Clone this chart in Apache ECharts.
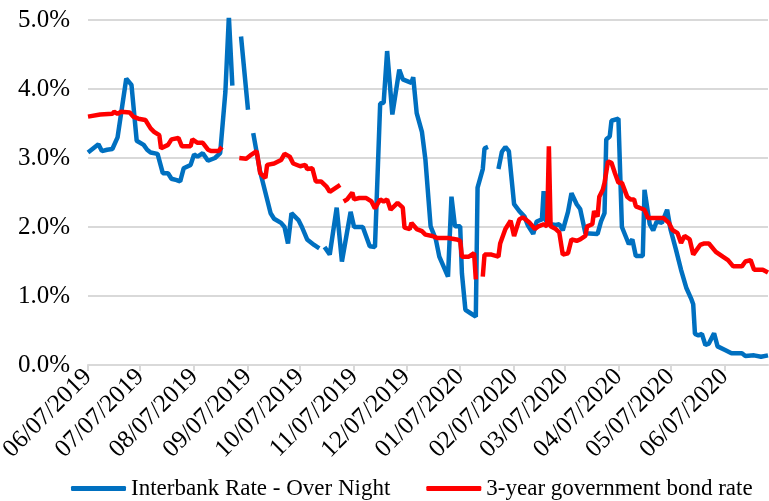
<!DOCTYPE html>
<html>
<head>
<meta charset="utf-8">
<script src="https://cdn.jsdelivr.net/npm/echarts@6/dist/echarts.min.js"></script>
<style>
  html, body { margin: 0; padding: 0; background: #fff; }
  #chart { width: 769px; height: 501px; }
</style>
</head>
<body>
<div id="chart"></div>
<script>
// daily category axis, first and last day
const startDay = '2019-06-07'
const endDay = '2020-07-02'

// Interbank Rate - Over Night (%), '-' breaks the line
const interbank = [
  ['2019-06-07', 3.08], ['2019-06-13', 3.20], ['2019-06-15', 3.10], ['2019-06-18', 3.12],
  ['2019-06-21', 3.13], ['2019-06-24', 3.30], ['2019-06-29', 4.15], ['2019-07-02', 4.06],
  ['2019-07-05', 3.25], ['2019-07-09', 3.19], ['2019-07-11', 3.12], ['2019-07-13', 3.08],
  ['2019-07-17', 3.06], ['2019-07-20', 2.78], ['2019-07-23', 2.78], ['2019-07-25', 2.70],
  ['2019-07-28', 2.68], ['2019-07-30', 2.66], ['2019-08-01', 2.85], ['2019-08-05', 2.90],
  ['2019-08-07', 3.05], ['2019-08-09', 3.02], ['2019-08-12', 3.07], ['2019-08-15', 2.96],
  ['2019-08-19', 3.00], ['2019-08-22', 3.07], ['2019-08-25', 3.96], ['2019-08-27', 5.05],
  ['2019-08-29', 4.05], ['2019-09-01', '-'],
  ['2019-09-03', 4.76], ['2019-09-07', 3.70], ['2019-09-09', '-'],
  ['2019-09-10', 3.36], ['2019-09-14', 2.80], ['2019-09-17', 2.50], ['2019-09-20', 2.20],
  ['2019-09-22', 2.12], ['2019-09-26', 2.06], ['2019-09-28', 2.00], ['2019-09-30', 1.76],
  ['2019-10-02', 2.20], ['2019-10-06', 2.10], ['2019-10-08', 2.00], ['2019-10-11', 1.82],
  ['2019-10-15', 1.74], ['2019-10-18', 1.69], ['2019-10-20', '-'],
  ['2019-10-21', 1.71], ['2019-10-24', 1.60], ['2019-10-28', 2.28], ['2019-10-31', 1.50],
  ['2019-11-05', 2.22], ['2019-11-07', 2.00], ['2019-11-12', 2.00], ['2019-11-16', 1.72],
  ['2019-11-19', 1.71], ['2019-11-22', 3.79], ['2019-11-24', 3.80], ['2019-11-26', 4.55],
  ['2019-11-29', 3.63], ['2019-12-03', 4.28], ['2019-12-05', 4.14], ['2019-12-10', 4.09],
  ['2019-12-11', 4.17], ['2019-12-13', 3.65], ['2019-12-16', 3.38], ['2019-12-18', 2.98],
  ['2019-12-21', 2.01], ['2019-12-24', 1.82], ['2019-12-26', 1.57], ['2019-12-31', 1.28],
  ['2020-01-01', 1.28], ['2020-01-02', 2.44], ['2020-01-04', 2.01], ['2020-01-07', 2.01],
  ['2020-01-08', 1.33], ['2020-01-10', 0.80], ['2020-01-13', 0.75], ['2020-01-16', 0.70],
  ['2020-01-17', 2.57], ['2020-01-20', 2.84], ['2020-01-21', 3.14], ['2020-01-23', 3.16],
  ['2020-01-26', '-'],
  ['2020-01-29', 2.84], ['2020-01-31', 3.09], ['2020-02-02', 3.16], ['2020-02-04', 3.10],
  ['2020-02-07', 2.33], ['2020-02-10', 2.23], ['2020-02-13', 2.15], ['2020-02-15', 2.02],
  ['2020-02-18', 1.90], ['2020-02-20', 2.08], ['2020-02-23', 2.11], ['2020-02-24', 2.52],
  ['2020-02-25', 2.10], ['2020-02-28', 2.04], ['2020-03-02', 2.03], ['2020-03-04', 2.04],
  ['2020-03-06', 1.95], ['2020-03-09', 2.22], ['2020-03-11', 2.49], ['2020-03-14', 2.33],
  ['2020-03-16', 2.26], ['2020-03-19', 1.91], ['2020-03-26', 1.90], ['2020-03-28', 2.08],
  ['2020-03-30', 2.20], ['2020-03-31', 3.27], ['2020-04-02', 3.31], ['2020-04-03', 3.54],
  ['2020-04-07', 3.57], ['2020-04-09', 2.00], ['2020-04-13', 1.75], ['2020-04-15', 1.82],
  ['2020-04-17', 1.58], ['2020-04-21', 1.58], ['2020-04-22', 2.54], ['2020-04-23', 2.55],
  ['2020-04-25', 2.04], ['2020-04-27', 1.95], ['2020-04-29', 2.08], ['2020-05-02', 2.06],
  ['2020-05-05', 2.25], ['2020-05-07', 1.96], ['2020-05-10', 1.68], ['2020-05-13', 1.38],
  ['2020-05-16', 1.12], ['2020-05-19', 0.95], ['2020-05-20', 0.88], ['2020-05-21', 0.45],
  ['2020-05-23', 0.43], ['2020-05-25', 0.45], ['2020-05-27', 0.29], ['2020-05-29', 0.31],
  ['2020-06-01', 0.46], ['2020-06-03', 0.27], ['2020-06-07', 0.22], ['2020-06-11', 0.17],
  ['2020-06-17', 0.17], ['2020-06-19', 0.13], ['2020-06-24', 0.14], ['2020-06-28', 0.12],
  ['2020-07-02', 0.14]
]

// 3-year government bond rate (%)
const bond3y = [
  ['2019-06-07', 3.60], ['2019-06-14', 3.63], ['2019-06-21', 3.64], ['2019-06-22', 3.67],
  ['2019-06-24', 3.64], ['2019-06-26', 3.67], ['2019-07-01', 3.66], ['2019-07-03', 3.60],
  ['2019-07-06', 3.57], ['2019-07-10', 3.55], ['2019-07-13', 3.43], ['2019-07-15', 3.38],
  ['2019-07-18', 3.33], ['2019-07-19', 3.14], ['2019-07-23', 3.19], ['2019-07-25', 3.27],
  ['2019-07-29', 3.29], ['2019-07-31', 3.17], ['2019-08-05', 3.17], ['2019-08-06', 3.27],
  ['2019-08-09', 3.22], ['2019-08-12', 3.22], ['2019-08-15', 3.12], ['2019-08-17', 3.10],
  ['2019-08-21', 3.10], ['2019-08-23', 3.16], ['2019-08-28', '-'],
  ['2019-09-02', 3.00], ['2019-09-06', 2.99], ['2019-09-09', 3.05], ['2019-09-12', 3.10],
  ['2019-09-14', 2.78], ['2019-09-17', 2.71], ['2019-09-18', 2.90], ['2019-09-22', 2.92],
  ['2019-09-26', 2.97], ['2019-09-28', 3.06], ['2019-10-01', 3.02], ['2019-10-03', 2.92],
  ['2019-10-07', 2.88], ['2019-10-10', 2.90], ['2019-10-11', 2.84], ['2019-10-14', 2.85],
  ['2019-10-16', 2.66], ['2019-10-19', 2.66], ['2019-10-22', 2.59], ['2019-10-24', 2.51],
  ['2019-10-27', 2.56], ['2019-10-30', 2.61], ['2019-10-31', '-'],
  ['2019-11-01', 2.37], ['2019-11-03', 2.40], ['2019-11-06', 2.50], ['2019-11-07', 2.40],
  ['2019-11-10', 2.42], ['2019-11-14', 2.42], ['2019-11-17', 2.37], ['2019-11-19', 2.27],
  ['2019-11-22', 2.40], ['2019-11-24', 2.37], ['2019-11-26', 2.40], ['2019-11-28', 2.25],
  ['2019-12-02', 2.35], ['2019-12-05', 2.28], ['2019-12-06', 1.99], ['2019-12-09', 1.97],
  ['2019-12-10', 2.06], ['2019-12-13', 1.97], ['2019-12-16', 1.94], ['2019-12-18', 1.89],
  ['2019-12-22', 1.87], ['2019-12-25', 1.84], ['2019-12-31', 1.84], ['2020-01-05', 1.82],
  ['2020-01-07', 1.80], ['2020-01-08', 1.57], ['2020-01-12', 1.57], ['2020-01-15', 1.62],
  ['2020-01-16', 1.24], ['2020-01-18', '-'],
  ['2020-01-20', 1.28], ['2020-01-21', 1.60], ['2020-01-25', 1.60], ['2020-01-29', 1.57],
  ['2020-01-30', 1.76], ['2020-02-02', 1.97], ['2020-02-05', 2.09], ['2020-02-07', 1.87],
  ['2020-02-10', 2.11], ['2020-02-12', 2.14], ['2020-02-16', 2.06], ['2020-02-19', 1.97],
  ['2020-02-21', 2.01], ['2020-02-24', 2.04], ['2020-02-26', 2.01], ['2020-02-27', 3.17],
  ['2020-02-28', 2.01], ['2020-03-02', 1.97], ['2020-03-04', 1.92], ['2020-03-06', 1.60],
  ['2020-03-09', 1.62], ['2020-03-11', 1.82], ['2020-03-14', 1.80], ['2020-03-16', 1.82],
  ['2020-03-19', 1.87], ['2020-03-20', 2.01], ['2020-03-23', 2.04], ['2020-03-24', 2.23],
  ['2020-03-26', 2.15], ['2020-03-27', 2.44], ['2020-03-29', 2.54], ['2020-03-30', 2.64],
  ['2020-04-01', 2.95], ['2020-04-03', 2.93], ['2020-04-05', 2.78], ['2020-04-07', 2.64],
  ['2020-04-09', 2.64], ['2020-04-12', 2.44], ['2020-04-14', 2.40], ['2020-04-16', 2.40],
  ['2020-04-17', 2.30], ['2020-04-22', 2.25], ['2020-04-24', 2.13], ['2020-04-28', 2.13],
  ['2020-05-03', 2.13], ['2020-05-06', 2.06], ['2020-05-08', 1.96], ['2020-05-11', 1.91],
  ['2020-05-13', 1.77], ['2020-05-15', 1.87], ['2020-05-18', 1.82], ['2020-05-20', 1.60],
  ['2020-05-24', 1.74], ['2020-05-26', 1.76], ['2020-05-29', 1.76], ['2020-06-02', 1.64],
  ['2020-06-06', 1.57], ['2020-06-09', 1.52], ['2020-06-12', 1.43], ['2020-06-17', 1.43],
  ['2020-06-19', 1.50], ['2020-06-22', 1.52], ['2020-06-24', 1.38], ['2020-06-29', 1.38],
  ['2020-07-02', 1.34]
]

// build the list of days for the category axis
const days = []
for (let t = Date.parse(startDay); t <= Date.parse(endDay); t += 86400000) {
  days.push(new Date(t).toISOString().slice(0, 10))
}

// ticks and labels only on the 7th of every month
const onSeventh = (index, value) => value.slice(8) === '07'

const serif = 'Liberation Serif, Times New Roman, serif'

const chart = echarts.init(document.getElementById('chart'))

const option = {
  animation: false,
  grid: { left: 88, right: 1, top: 20, bottom: 136, outerBoundsMode: 'none' },
  legend: {
    bottom: -4,
    left: 66,
    icon: 'roundRect',
    itemWidth: 55,
    itemHeight: 5,
    itemGap: 36,
    textStyle: { fontFamily: serif, fontSize: 23, color: '#000' },
    data: ['Interbank Rate - Over Night', '3-year government bond rate']
  },
  xAxis: {
    type: 'category',
    data: days,
    boundaryGap: false,
    axisLine: { lineStyle: { color: '#d9d9d9', width: 2 } },
    axisTick: { interval: onSeventh, length: 6, lineStyle: { color: '#d9d9d9', width: 2 } },
    axisLabel: {
      interval: onSeventh,
      rotate: 45,
      margin: 8,
      fontFamily: serif,
      fontSize: 25,
      color: '#000',
      formatter: (value) => value.slice(5, 7) + '/' + value.slice(8) + '/' + value.slice(0, 4)
    }
  },
  yAxis: {
    type: 'value',
    min: 0,
    max: 5,
    interval: 1,
    axisLine: { show: false },
    axisTick: { show: false },
    axisLabel: {
      margin: 18,
      fontFamily: serif,
      fontSize: 25,
      color: '#000',
      formatter: (v) => v.toFixed(1) + '%'
    },
    splitLine: { lineStyle: { color: '#d9d9d9', width: 2 } }
  },
  series: [
    {
      name: 'Interbank Rate - Over Night',
      type: 'line',
      data: interbank,
      symbol: 'none',
      connectNulls: false,
      itemStyle: { color: '#0070C0' },
      lineStyle: { width: 4.5, color: '#0070C0' }
    },
    {
      name: '3-year government bond rate',
      type: 'line',
      data: bond3y,
      symbol: 'none',
      connectNulls: false,
      itemStyle: { color: '#FF0000' },
      lineStyle: { width: 4.5, color: '#FF0000' }
    }
  ]
}

chart.setOption(option)
</script>
</body>
</html>
